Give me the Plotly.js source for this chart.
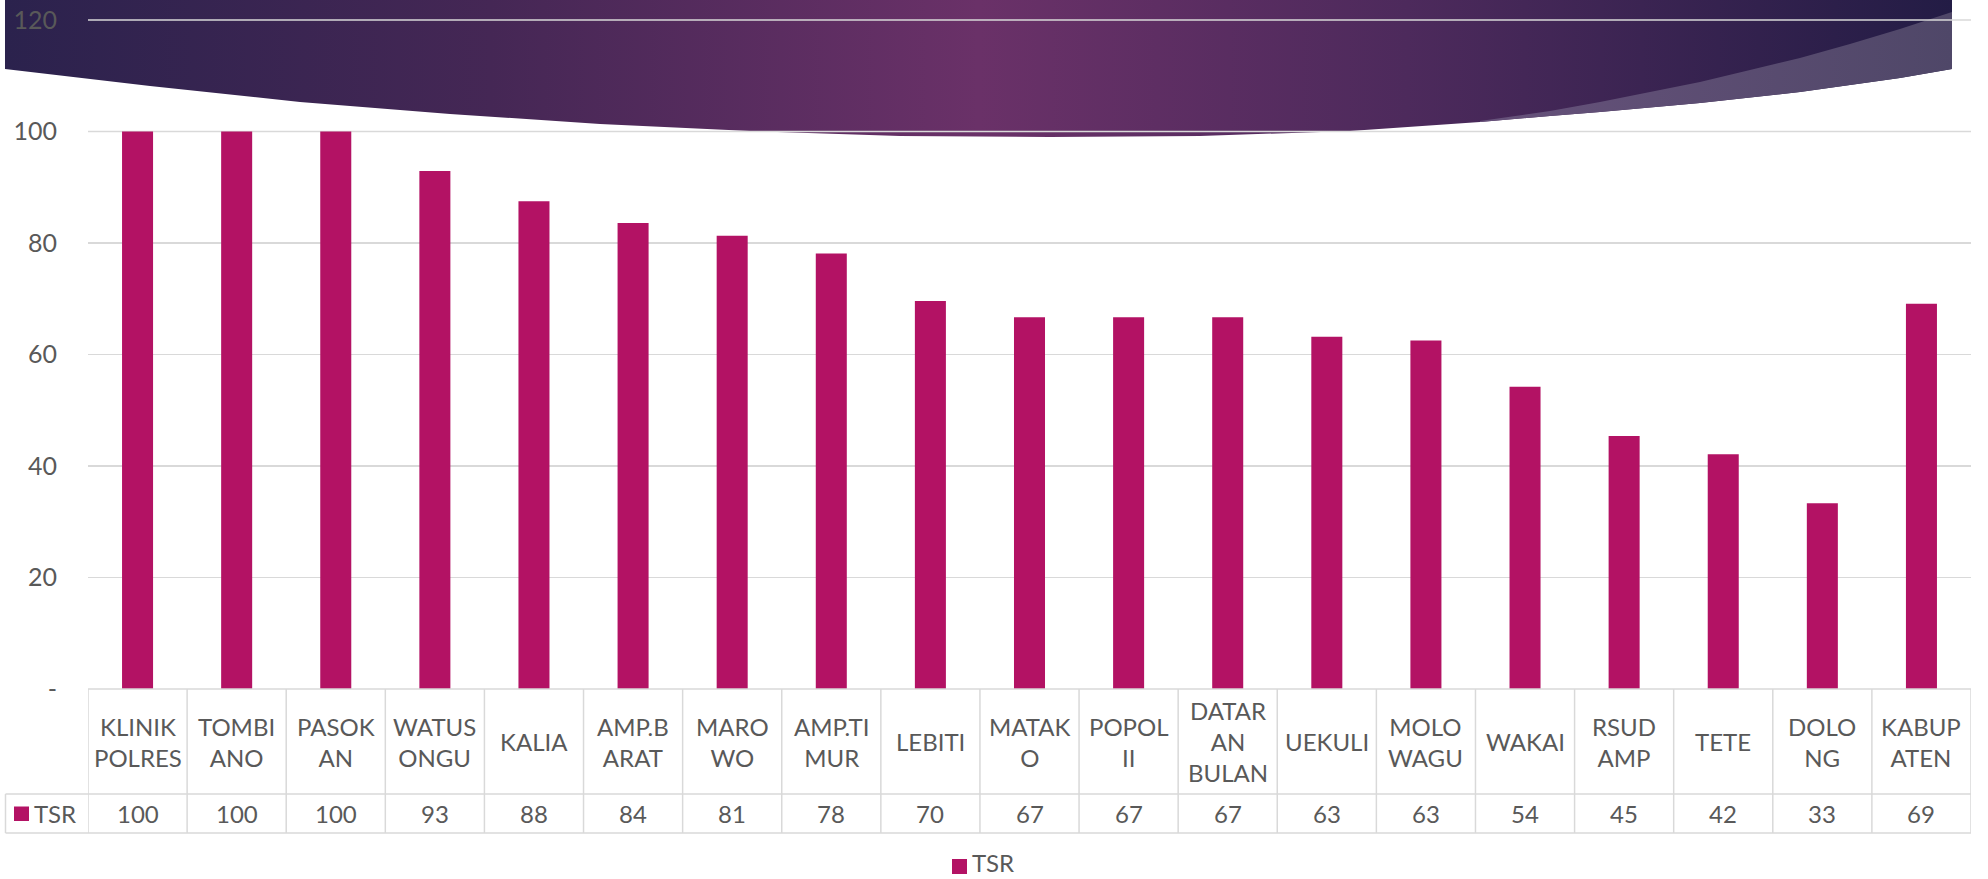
<!DOCTYPE html>
<html>
<head>
<meta charset="utf-8">
<script src="https://cdn.plot.ly/plotly-3.0.1.min.js"></script>
<style>
html,body{margin:0;padding:0;background:#fff;}
#chart{width:1988px;height:879px;}
</style>
</head>
<body>
<div id="chart"></div>
<script>
// ---------------- DATA ----------------
const categories = ['KLINIK POLRES','TOMBIANO','PASOKAN','WATUSONGU','KALIA','AMP.BARAT','MAROWO','AMP.TIMUR','LEBITI','MATAKO','POPOL II','DATARAN BULAN','UEKULI','MOLOWAGU','WAKAI','RSUD AMP','TETE','DOLONG','KABUPATEN'];
const tableLabels = ['KLINIK<br>POLRES','TOMBI<br>ANO','PASOK<br>AN','WATUS<br>ONGU','KALIA','AMP.B<br>ARAT','MARO<br>WO','AMP.TI<br>MUR','LEBITI','MATAK<br>O','POPOL<br>II','DATAR<br>AN<br>BULAN','UEKULI','MOLO<br>WAGU','WAKAI','RSUD<br>AMP','TETE','DOLO<br>NG','KABUP<br>ATEN'];
const tsr = [100, 100, 100, 92.9, 87.5, 83.6, 81.3, 78.1, 69.6, 66.7, 66.7, 66.7, 63.2, 62.5, 54.2, 45.4, 42.1, 33.3, 69.1];
const seriesName = 'TSR';
const yTickVals = [0, 20, 40, 60, 80, 100, 120];
const yTickText = ['-', '20', '40', '60', '80', '100', '120'];
const yMax = 120;

// ---------------- LAYOUT GEOMETRY ----------------
const W = 1988, H = 879;
const M = {l: 88, r: 17, t: 20, b: 190};
const PW = W - M.l - M.r, PH = H - M.t - M.b;
const X0 = M.l, Y0 = M.t + PH; // pixel of plot bottom-left
const px = x => (x - X0) / PW;
const py = y => (Y0 - y) / PH;

const FONT = 'Lato, "Open Sans", sans-serif';
const TXT = '#595959';
const BAR = '#b31264';
const GRID = '#d9d9d9';

// decorative banner geometry (pixels)
const outerArc = [[5,69],[150,86],[300,102],[450,114],[600,124],[750,131],[900,136],[1050,137],[1200,136],[1350,131],[1480,122],[1550,116],[1600,112],[1700,103],[1800,92],[1900,78],[1952,69]];
const innerCurve = [[1480,121],[1550,111],[1600,102],[1650,92],[1700,82],[1750,70],[1800,58],[1850,44],[1900,29],[1952,12]];
const P = (p) => px(p[0]).toFixed(5) + ',' + py(p[1]).toFixed(5);

let bannerPath = 'M' + P([5,0]) + ' L' + P([1952,0]);
outerArc.slice().reverse().forEach(p => bannerPath += ' L' + P(p));
bannerPath += ' Z';

let wedgePath = 'M' + P([1952,12]) + ' L' + P([1952,69]);
outerArc.slice().reverse().filter(p => p[0] >= 1480).forEach(p => wedgePath += ' L' + P(p));
innerCurve.forEach(p => wedgePath += ' L' + P(p));
wedgePath += ' Z';

const lineStyle = {color: GRID, width: 1.5};
const shapes = [
  {type:'path', xref:'paper', yref:'paper', path: bannerPath, fillcolor:'#010203', line:{width:0}, layer:'below'},
  {type:'path', xref:'paper', yref:'paper', path: wedgePath, fillcolor:'#040506', line:{width:0}, layer:'below'}
];
// gridlines that run across the banner, drawn on top of it
[100, 120].forEach(v => {
  shapes.push({type:'line', xref:'paper', yref:'paper', x0: 0, x1: 1, y0: v / yMax, y1: v / yMax, line: lineStyle, layer:'below'});
});

// table lines
shapes.push({type:'line', xref:'paper', yref:'paper', x0: 0, x1: 1, y0: 0, y1: 0, line: lineStyle});
shapes.push({type:'line', xref:'paper', yref:'paper', x0: px(5.5), x1: 1, y0: py(794), y1: py(794), line: lineStyle});
shapes.push({type:'line', xref:'paper', yref:'paper', x0: px(5.5), x1: 1, y0: py(833), y1: py(833), line: lineStyle});
shapes.push({type:'line', xref:'paper', yref:'paper', x0: px(5.5), x1: px(5.5), y0: py(794), y1: py(833), line: lineStyle});
for (let k = 0; k <= categories.length; k++) {
  shapes.push({type:'line', xref:'x', yref:'paper', x0: k - 0.5, x1: k - 0.5, y0: 0, y1: py(833), line: lineStyle});
}
// legend key in table
shapes.push({type:'rect', xref:'paper', yref:'paper', x0: px(14), x1: px(29), y0: py(821), y1: py(806.5), fillcolor: BAR, line:{width:0}});
// bottom legend key
shapes.push({type:'rect', xref:'paper', yref:'paper', x0: px(952), x1: px(967), y0: py(874), y1: py(859), fillcolor: BAR, line:{width:0}});

const annotations = [];
categories.forEach((c, i) => {
  annotations.push({xref:'x', yref:'paper', x: c, y: py(741.5), text: tableLabels[i], showarrow:false,
    xanchor:'center', yanchor:'middle', font:{family:FONT, size:24, color:TXT}});
  annotations.push({xref:'x', yref:'paper', x: c, y: py(813.5), text: String(Math.round(tsr[i])), showarrow:false,
    xanchor:'center', yanchor:'middle', font:{family:FONT, size:24, color:TXT}});
});
annotations.push({xref:'paper', yref:'paper', x: px(32), y: py(813.5), text: seriesName, showarrow:false,
  xanchor:'left', yanchor:'middle', font:{family:FONT, size:24, color:TXT}});
annotations.push({xref:'paper', yref:'paper', x: px(971), y: py(863), text: seriesName, showarrow:false, borderpad: 0,
  xanchor:'left', yanchor:'middle', font:{family:FONT, size:24, color:TXT}});

const trace = {
  type: 'bar',
  x: categories,
  y: tsr,
  name: seriesName,
  marker: {color: BAR, line: {width: 0}},
  hoverinfo: 'x+y',
  showlegend: false
};

const layout = {
  width: W, height: H,
  margin: M,
  paper_bgcolor: '#ffffff',
  plot_bgcolor: 'rgba(0,0,0,0)',
  bargap: 0.687,
  showlegend: false,
  font: {family: FONT, color: TXT, size: 24},
  xaxis: {
    type: 'category',
    showticklabels: false,
    showgrid: false,
    zeroline: false,
    showline: false,
    ticks: '',
    range: [-0.5, categories.length - 0.5],
    fixedrange: true
  },
  yaxis: {
    range: [0, yMax],
    tickvals: yTickVals,
    ticktext: yTickText,
    showgrid: true, gridcolor: GRID, gridwidth: 1.5,
    zeroline: false,
    showline: false,
    ticks: '',
    ticklabelstandoff: 30,
    tickfont: {family: FONT, size: 25, color: TXT},
    fixedrange: true
  },
  shapes: shapes,
  annotations: annotations
};

Plotly.newPlot('chart', [trace], layout, {displayModeBar: false, staticPlot: true}).then(() => {
  const svg = document.querySelector('#chart .main-svg');
  const NS = 'http://www.w3.org/2000/svg';
  const defs = document.createElementNS(NS, 'defs');
  function grad(id, stops) {
    const g = document.createElementNS(NS, 'linearGradient');
    g.setAttribute('id', id);
    g.setAttribute('x1', '0'); g.setAttribute('y1', '0');
    g.setAttribute('x2', '1'); g.setAttribute('y2', '0');
    stops.forEach(s => {
      const st = document.createElementNS(NS, 'stop');
      st.setAttribute('offset', s[0]);
      st.setAttribute('stop-color', s[1]);
      g.appendChild(st);
    });
    defs.appendChild(g);
  }
  grad('bannerGrad', [[0,'#2b224d'],[0.25,'#452755'],[0.5,'#6a3168'],[0.72,'#4d2a5c'],[1,'#231c45']]);
  grad('wedgeGrad', [[0,'#67527b'],[1,'#4f4768']]);
  svg.insertBefore(defs, svg.firstChild);
  document.querySelectorAll('#chart path').forEach(p => {
    const f = p.style.fill;
    if (f === 'rgb(1, 2, 3)') { p.style.fill = 'url(#bannerGrad)'; p.style.fillOpacity = 1; }
    if (f === 'rgb(4, 5, 6)') { p.style.fill = 'url(#wedgeGrad)'; p.style.fillOpacity = 1; }
  });
});
</script>
</body>
</html>
